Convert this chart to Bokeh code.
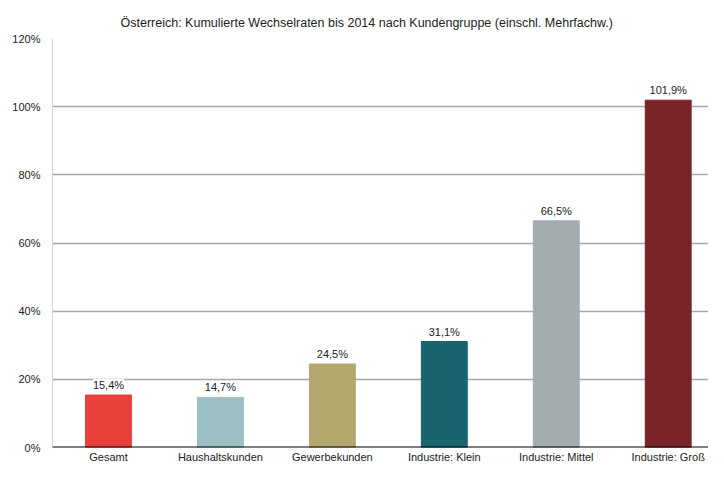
from bokeh.plotting import figure
from bokeh.models import ColumnDataSource, LabelSet, Range1d, FixedTicker, Span
from bokeh.core.properties import value
from bokeh.embed import file_html
from bokeh.resources import INLINE

categories = ["Gesamt", "Haushaltskunden", "Gewerbekunden", "Industrie: Klein", "Industrie: Mittel", "Industrie: Groß"]
values = [15.4, 14.7, 24.5, 31.1, 66.5, 101.9]
colors = ["#e8403a", "#9cbfc3", "#b3a76e", "#18646f", "#a4acae", "#7a2329"]
y_ticks = [0, 20, 40, 60, 80, 100, 120]
y_tick_labels = ["0%", "20%", "40%", "60%", "80%", "100%", "120%"]
title = "Österreich: Kumulierte Wechselraten bis 2014 nach Kundengruppe (einschl. Mehrfachw.)"

xs = list(range(len(categories)))
labels = [f"{v:.1f}".replace(".", ",") + "%" for v in values]
src = ColumnDataSource(dict(x=xs, top=values, color=colors, label=labels))

FONT = "Liberation Sans"
p = figure(width=708, height=465, output_backend="svg", toolbar_location=None,
           x_range=Range1d(-0.5, 5.36), y_range=Range1d(0, 120),
           min_border_left=52, min_border_right=0, min_border_top=38, min_border_bottom=16)
p.outline_line_color = None
p.title.text = title
p.title.text_font = FONT
p.title.text_font_size = "12.5px"
p.title.text_font_style = "normal"
p.title.text_color = "#222222"
p.title.align = "left"
p.title.offset = 68
p.title.standoff = 17

p.vbar(x="x", top="top", width=0.41, color="color", source=src)

p.add_layout(LabelSet(x="x", y="top", text="label", source=src, text_align="center",
                      text_baseline="bottom", y_offset=4, text_font=value(FONT),
                      text_font_size="11px", text_color="#222222",
                      background_fill_color="white", background_fill_alpha=1.0))

# axes
p.xaxis.ticker = FixedTicker(ticks=xs)
p.xaxis.major_label_overrides = {i: c for i, c in enumerate(categories)}
p.xaxis.major_tick_line_color = None
p.xaxis.major_tick_out = 0
p.xaxis.major_tick_in = 0
p.xaxis.minor_tick_line_color = None
p.xaxis.axis_line_color = None
p.xaxis.major_label_text_font = FONT
p.xaxis.major_label_text_font_size = "11px"
p.xaxis.major_label_text_color = "#222222"
p.xaxis.major_label_standoff = 3

p.yaxis.ticker = FixedTicker(ticks=y_ticks)
p.yaxis.major_label_overrides = {t: l for t, l in zip(y_ticks, y_tick_labels)}
p.yaxis.major_tick_line_color = None
p.yaxis.major_tick_out = 0
p.yaxis.major_tick_in = 0
p.yaxis.minor_tick_line_color = None
p.yaxis.axis_line_color = "#d4d4d4"
p.yaxis.axis_line_width = 1
p.yaxis.major_label_text_font = FONT
p.yaxis.major_label_text_font_size = "11px"
p.yaxis.major_label_text_color = "#222222"
p.yaxis.major_label_standoff = 12

p.xgrid.grid_line_color = None
p.ygrid.ticker = FixedTicker(ticks=y_ticks[1:])
p.ygrid.grid_line_color = "#a8a8a8"
p.ygrid.grid_line_width = 1.5
p.ygrid.level = "underlay"

p.add_layout(Span(location=0, dimension="width", line_color="black", line_width=2))

open("out.html", "w").write(file_html(p, INLINE))
